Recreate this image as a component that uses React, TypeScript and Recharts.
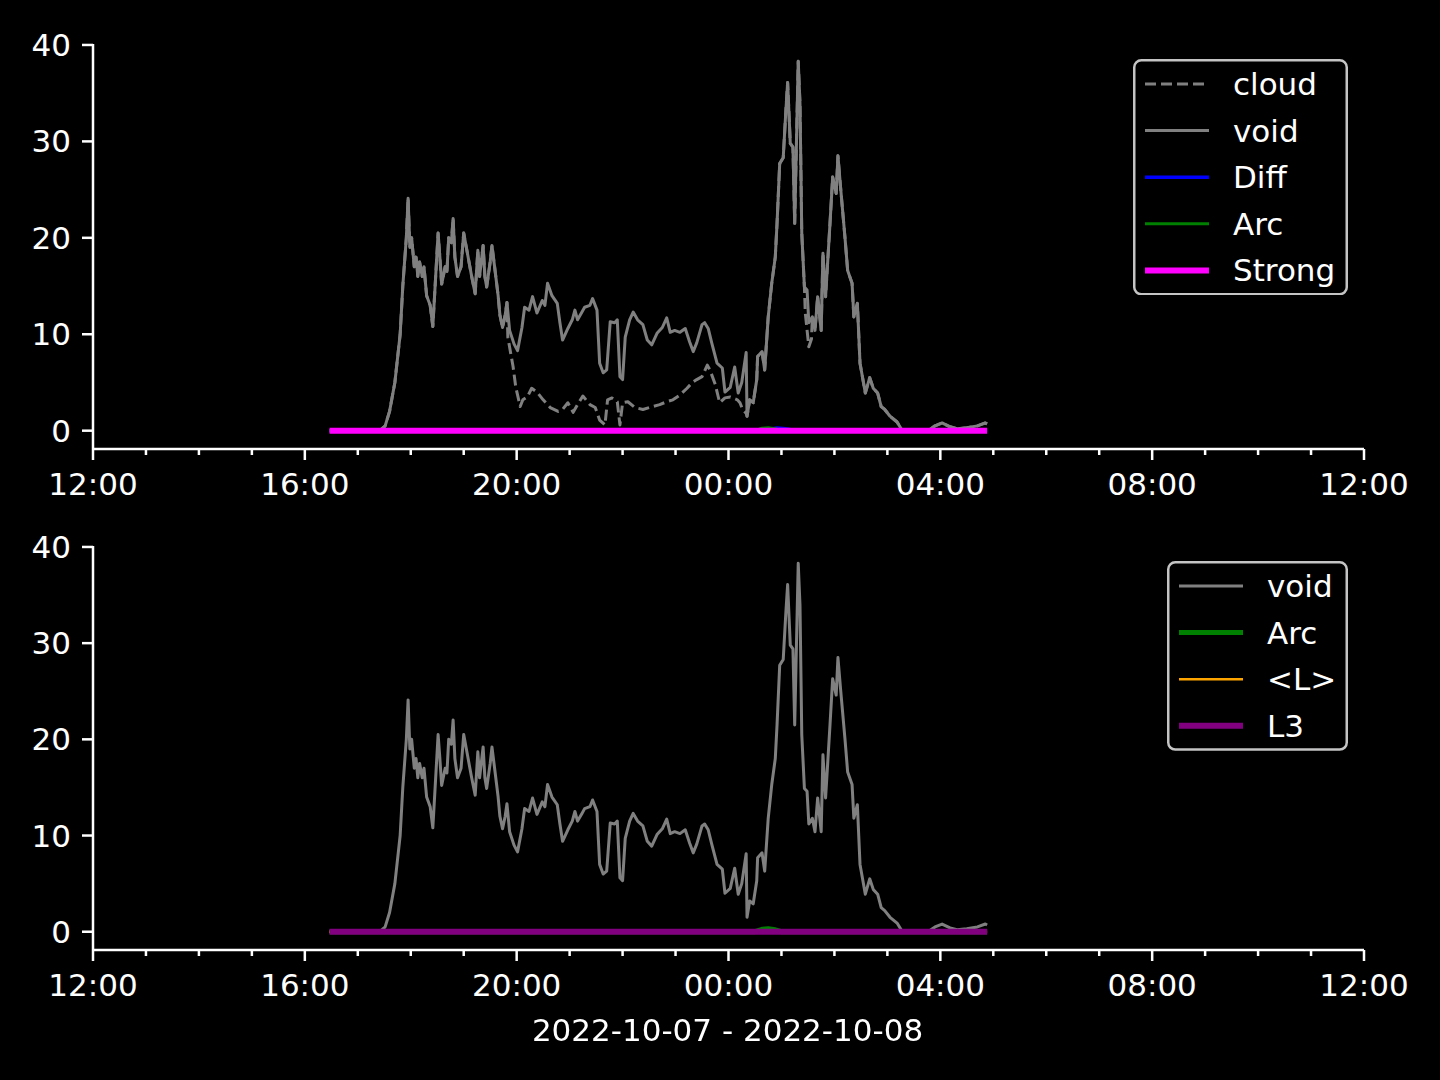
import { LineChart, Line, XAxis, YAxis } from 'recharts';

// times are local clock readings, 2022-10-07 12:00 .. 2022-10-08 12:00
const voidTimes = [
  '16:28', '17:25', '17:31', '17:36', '17:42', '17:48', '17:51', '17:55', '17:57', '17:59',
  '18:01', '18:04', '18:06', '18:08', '18:10', '18:13', '18:15', '18:18', '18:22', '18:25',
  '18:27', '18:31', '18:33', '18:35', '18:39', '18:41', '18:43', '18:46', '18:48', '18:50',
  '18:53', '18:57', '19:00', '19:04', '19:07', '19:09', '19:13', '19:16', '19:18', '19:22',
  '19:24', '19:26', '19:30', '19:32', '19:35', '19:39', '19:41', '19:44', '19:47', '19:49',
  '19:52', '19:57', '20:01', '20:06', '20:09', '20:14', '20:18', '20:23', '20:29', '20:32',
  '20:35', '20:40', '20:46', '20:49', '20:52', '20:58', '21:03', '21:06', '21:09', '21:14',
  '21:17', '21:23', '21:26', '21:31', '21:34', '21:38', '21:42', '21:46', '21:51', '21:54',
  '21:57', '22:00', '22:03', '22:08', '22:12', '22:17', '22:23', '22:28', '22:33', '22:39',
  '22:45', '22:50', '22:54', '22:59', '23:05', '23:11', '23:16', '23:20', '23:24', '23:30',
  '23:33', '23:37', '23:41', '23:47', '23:53', '23:56', '00:02', '00:07', '00:11', '00:15',
  '00:20', '00:21', '00:24', '00:28', '00:32', '00:33', '00:38', '00:41', '00:45', '00:49',
  '00:53', '00:55', '00:58', '01:02', '01:05', '01:07', '01:10', '01:13', '01:15', '01:19',
  '01:21', '01:23', '01:26', '01:29', '01:31', '01:35', '01:38', '01:41', '01:45', '01:47',
  '01:50', '01:55', '01:58', '02:02', '02:04', '02:07', '02:12', '02:15', '02:20', '02:22',
  '02:26', '02:29', '02:35', '02:40', '02:44', '02:49', '02:53', '02:57', '03:03', '03:11',
  '03:17', '03:46', '03:54', '04:02', '04:11', '04:19', '04:30', '04:42', '04:51', '04:53',
];
const voidValues = [
  0, 0, 0.5, 2, 5, 10, 15, 20, 24.1, 19,
  20, 17, 18, 16, 17.5, 16, 17, 14, 13, 10.8,
  14, 20.5, 18, 15.2, 17, 16.5, 20, 19.5, 22, 18,
  16, 17, 20.5, 18.5, 17, 16, 14.2, 18.7, 16, 19.2,
  16, 14.9, 17.5, 19.2, 17, 14, 12, 10.7, 12, 13.3,
  10.4, 9, 8.3, 10.7, 12.8, 12.5, 13.9, 12.2, 13.5, 13,
  15.3, 14, 13.2, 11.2, 9.4, 10.6, 11.5, 12.5, 11.5, 12.3,
  12.8, 13, 13.7, 12.5, 7, 6, 6.3, 11.3, 11.2, 11.5,
  5.6, 5.3, 9.7, 11.5, 12.3, 11.5, 11, 9.4, 8.9, 10.1,
  10.7, 11.7, 10.2, 10.4, 10.2, 10.6, 9.2, 8.2, 9.1, 11,
  11.2, 10.6, 9.1, 7, 6.5, 4, 4.5, 6.6, 3.9, 5,
  8.1, 1.5, 3.2, 2.9, 5.3, 7.7, 8.2, 6.3, 11.8, 15.3,
  18, 21.5, 27.7, 28.3, 33.2, 36.1, 29.8, 29.4, 21.5, 38.3,
  33.9, 20.5, 14.9, 14.6, 11.2, 11.8, 10.4, 13.9, 10.4, 18.4,
  13.9, 21.5, 26.3, 24.6, 28.5, 25.2, 20, 16.6, 15.3, 11.8,
  13.2, 7, 3.9, 5.5, 4.4, 3.9, 2.5, 2.2, 1.5, 0.9,
  0, 0, 0.5, 0.8, 0.4, 0.2, 0.3, 0.5, 0.8, 0.7,
];

// where cloud departs from void
const cloudEveningTimes = [
  '19:50', '19:56', '19:59', '20:04', '20:07', '20:12', '20:17', '20:23', '20:30', '20:38',
  '20:47', '20:52', '20:58', '21:04', '21:09', '21:15', '21:23', '21:29', '21:34', '21:40',
  '21:43', '21:48', '21:54', '21:57', '22:00', '22:06', '22:14', '22:23', '22:34', '22:42',
  '22:50', '22:57', '23:05', '23:13', '23:19', '23:24', '23:30', '23:36', '23:39', '23:45',
  '23:50', '23:56', '00:02', '00:10', '00:13', '00:16', '00:20',
];
const cloudEveningValues = [
  9.7, 6.6, 4.5, 2.5, 3.2, 3.5, 4.4, 4, 3.2, 2.4,
  2, 2.2, 2.9, 1.9, 2.7, 3.6, 2.7, 2.4, 1.1, 0.6,
  3.2, 3.4, 3, 0.6, 2.9, 3, 2.4, 2.2, 2.5, 2.7,
  3, 3.2, 3.7, 4.4, 5, 5.3, 5.6, 6.8, 6.3, 4.8,
  2.9, 3.4, 3.5, 3.2, 2.9, 2.2, 1.8,
];
const cloudNightTimes = ['01:27', '01:31', '01:34'];
const cloudNightValues = [12.2, 8.7, 9.5];

const diffTimes = ['16:28', '00:40', '00:48', '00:55', '01:02', '01:10', '01:25', '04:53'];
const diffValues = [0, 0, 0.2, 0.3, 0.25, 0.15, 0, 0];
const arcTimes = ['16:28', '00:30', '00:38', '00:45', '00:53', '01:00', '04:53'];
const arcValues = [0, 0, 0.25, 0.3, 0.2, 0, 0];
const strongTimes = ['16:28', '04:53'];
const strongValues = [0, 0];
const meanLTimes = ['16:28', '04:53'];
const meanLValues = [0, 0];
const l3Times = ['16:28', '04:53'];
const l3Values = [0, 0];

const hourTicks = Array.from({ length: 25 }, (_, i) => i);
const yTicks = [0, 10, 20, 30, 40];
const dateLabel = '2022-10-07 - 2022-10-08';

const FONT = '"DejaVu Sans", sans-serif';
const FS = 31;

// hours since 12:00 on the first day
const toHours = (s: string) => {
  const [h, m] = s.split(':').map(Number);
  return (h < 12 ? h + 24 : h) - 12 + m / 60;
};
const pts = (times: string[], values: number[]) => times.map((t, i) => ({ t: toHours(t), v: values[i] }));

const voidData = pts(voidTimes, voidValues);
const cloudData = (() => {
  const parts = [pts(cloudEveningTimes, cloudEveningValues), pts(cloudNightTimes, cloudNightValues)];
  const wins = parts.map((p) => [p[0].t - 1e-6, p[p.length - 1].t + 1e-6]);
  const base = voidData.filter((p) => !wins.some(([a, b]) => p.t >= a && p.t <= b));
  return [...base, ...parts[0], ...parts[1]].sort((a, b) => a.t - b.t);
})();
const diffData = pts(diffTimes, diffValues);
const arcData = pts(arcTimes, arcValues);
const strongData = pts(strongTimes, strongValues);
const meanLData = pts(meanLTimes, meanLValues);
const l3Data = pts(l3Times, l3Values);

const fmtHour = (h: number) => `${String((12 + h) % 24).padStart(2, '0')}:00`;

const XTick = (props: any) => {
  const { x, y, payload } = props;
  const major = payload.value % 4 === 0;
  return (
    <g>
      <line x1={x} x2={x} y1={y} y2={y + (major ? 11 : 6)} stroke="#fff" strokeWidth={2.5} />
      {major && (
        <text x={x} y={y + 46} textAnchor="middle" fill="#fff" fontSize={FS} fontFamily={FONT}>
          {fmtHour(payload.value)}
        </text>
      )}
    </g>
  );
};

const YTick = (props: any) => {
  const { x, y, payload } = props;
  return (
    <g>
      <line x1={x - 11} x2={x} y1={y} y2={y} stroke="#fff" strokeWidth={2.5} />
      <text x={x - 22} y={y + 11} textAnchor="end" fill="#fff" fontSize={FS} fontFamily={FONT}>
        {payload.value}
      </text>
    </g>
  );
};

const Axes = () => [
  <XAxis
    key="xb"
    type="number"
    dataKey="t"
    domain={[0, 24]}
    ticks={hourTicks}
    interval={0}
    allowDataOverflow
    height={60}
    tickSize={0}
    tickMargin={0}
    tickLine={false}
    axisLine={{ stroke: '#fff', strokeWidth: 2.5 }}
    tick={<XTick />}
  />,
  <XAxis
    key="xt"
    xAxisId="top"
    orientation="top"
    type="number"
    dataKey="t"
    domain={[0, 24]}
    height={0}
    tick={false}
    tickLine={false}
    axisLine={{ stroke: '#fff', strokeWidth: 2.5 }}
  />,
  <YAxis
    key="yl"
    type="number"
    domain={[-1.9, 40.1]}
    ticks={yTicks}
    interval={0}
    allowDataOverflow
    width={93}
    tickSize={0}
    tickMargin={0}
    tickLine={false}
    axisLine={{ stroke: '#fff', strokeWidth: 2.5 }}
    tick={<YTick />}
  />,
  <YAxis
    key="yr"
    yAxisId="right"
    orientation="right"
    type="number"
    domain={[-1.9, 40.1]}
    width={0}
    tick={false}
    tickLine={false}
    axisLine={{ stroke: '#fff', strokeWidth: 2.5 }}
  />,
];

type Entry = { label: string; color: string; width: number; dash?: string };

const LegendBox = ({ left, top, width, entries }: { left: number; top: number; width: number; entries: Entry[] }) => {
  const rowH = 46.6;
  const height = 25 + rowH * (entries.length - 1) + 25;
  return (
    <svg style={{ position: 'absolute', left, top }} width={width} height={height}>
      <rect x={1.25} y={1.25} width={width - 2.5} height={height - 2.5} rx={7} fill="#000" stroke="#c4c4c4" strokeWidth={2.5} />
      {entries.map((e, i) => {
        const cy = 25 + i * rowH;
        return (
          <g key={e.label}>
            <line x1={12} x2={76} y1={cy} y2={cy} stroke={e.color} strokeWidth={e.width} strokeDasharray={e.dash} />
            <text x={100} y={cy + 11} fill="#fff" fontSize={FS} fontFamily={FONT}>
              {e.label}
            </text>
          </g>
        );
      })}
    </svg>
  );
};

const topEntries: Entry[] = [
  { label: 'cloud', color: '#808080', width: 3, dash: '11 5' },
  { label: 'void', color: '#808080', width: 3 },
  { label: 'Diff', color: '#0000ff', width: 3.5 },
  { label: 'Arc', color: '#008000', width: 3 },
  { label: 'Strong', color: '#ff00ff', width: 6 },
];
const bottomEntries: Entry[] = [
  { label: 'void', color: '#808080', width: 3 },
  { label: 'Arc', color: '#008000', width: 5 },
  { label: '<L>', color: '#ffa500', width: 2.5 },
  { label: 'L3', color: '#800080', width: 6 },
];

const line = (key: string, data: any[], color: string, width: number, dash?: string) => (
  <Line
    key={key}
    data={data}
    dataKey="v"
    type="linear"
    stroke={color}
    strokeWidth={width}
    strokeDasharray={dash}
    strokeLinejoin="round"
    dot={false}
    activeDot={false}
    isAnimationActive={false}
  />
);

export default function App() {
  return (
    <div style={{ position: 'fixed', left: 0, top: 0, width: 1440, height: 1080, background: '#000', fontFamily: FONT }}>
      <div style={{ position: 'absolute', left: 0, top: 0 }}>
        <LineChart width={1440} height={540} margin={{ top: 44, right: 76, bottom: 31, left: 0 }}>
          {Axes()}
          {line('cloud', cloudData, '#808080', 3, '11 5')}
          {line('void', voidData, '#808080', 3)}
          {line('diff', diffData, '#0000ff', 3)}
          {line('arc', arcData, '#008000', 3)}
          {line('strong', strongData, '#ff00ff', 6)}
        </LineChart>
      </div>
      <div style={{ position: 'absolute', left: 0, top: 500 }}>
        <LineChart width={1440} height={580} margin={{ top: 46, right: 76, bottom: 70, left: 0 }}>
          {Axes()}
          {line('void', voidData, '#808080', 3)}
          {line('arc', arcData, '#008000', 5)}
          {line('meanL', meanLData, '#ffa500', 2.5)}
          {line('l3', l3Data, '#800080', 6)}
        </LineChart>
      </div>
      <LegendBox left={1133} top={59} width={215} entries={topEntries} />
      <LegendBox left={1167} top={561} width={181} entries={bottomEntries} />
      <div
        style={{
          position: 'absolute',
          left: 0,
          width: 1455,
          top: 1010,
          textAlign: 'center',
          color: '#fff',
          fontSize: FS,
          lineHeight: '40px',
        }}
      >
        {dateLabel}
      </div>
    </div>
  );
}
